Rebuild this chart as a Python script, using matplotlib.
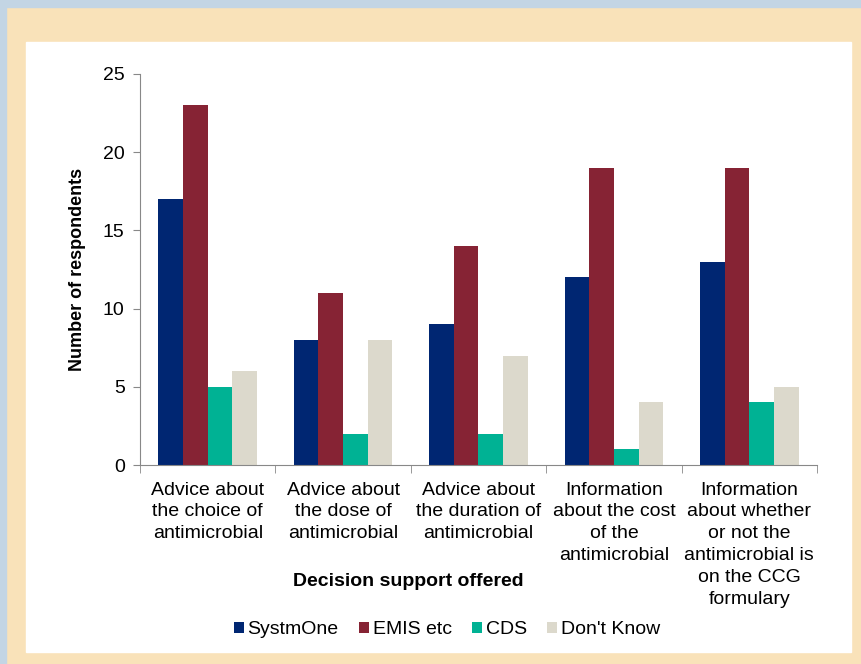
import matplotlib
matplotlib.use('Agg')
import matplotlib.pyplot as plt
import matplotlib.patches as mpatches
import numpy as np

plt.rcParams['font.family'] = ['Liberation Sans', 'DejaVu Sans']

categories = ['Advice about\nthe choice of\nantimicrobial',
              'Advice about\nthe dose of\nantimicrobial',
              'Advice about\nthe duration of\nantimicrobial',
              'Information\nabout the cost\nof the\nantimicrobial',
              'Information\nabout whether\nor not the\nantimicrobial is\non the CCG\nformulary']
series_names = ['SystmOne', 'EMIS etc', 'CDS', "Don't Know"]
systmone = [17, 8, 9, 12, 13]
emis = [23, 11, 14, 19, 19]
cds = [5, 2, 2, 1, 4]
dont_know = [6, 8, 7, 4, 5]
colors = ['#002672', '#862334', '#00b294', '#dcd9cc']

fig = plt.figure(figsize=(8.62, 6.64), dpi=100)
fig.patch.set_facecolor('#f9e2b9')
W, H = 862, 664
# blue strip top / left, white panel
fig.patches.append(mpatches.Rectangle((0, 1 - 7 / H), 1, 7 / H, transform=fig.transFigure,
                                      color='#c3d5e4', zorder=-5))
fig.patches.append(mpatches.Rectangle((0, 0), 6 / W, 1, transform=fig.transFigure,
                                      color='#c3d5e4', zorder=-5))
fig.patches.append(mpatches.Rectangle((26 / W, 1 - 652 / H), (851 - 26) / W, (652 - 42) / H,
                                      transform=fig.transFigure, color='white', zorder=-5))

ax = fig.add_axes([140 / W, 1 - 465 / H, (817 - 140) / W, (465 - 74) / H])
ax.set_facecolor('none')
ax.set_zorder(2)

x = np.arange(len(categories))
w = 1 / 5.5
data = [systmone, emis, cds, dont_know]
for i, (vals, name, c) in enumerate(zip(data, series_names, colors)):
    ax.bar(x + (i - 1.5) * w, vals, w, color=c, label=name)

ax.set_xlim(-0.5, len(categories) - 0.5)
ax.set_ylim(0, 25)
ax.set_yticks([0, 5, 10, 15, 20, 25])
ax.tick_params(axis='y', labelsize=14, color='#888888', length=5, pad=6)
ax.set_xticks(x)
ax.set_xticklabels(categories, fontsize=14, linespacing=1.37)
ax.tick_params(axis='x', which='major', length=0, pad=12)
ax.set_xticks(np.arange(-0.5, len(categories)), minor=True)
ax.tick_params(axis='x', which='minor', length=6, color='#888888')
for s in ['top', 'right']:
    ax.spines[s].set_visible(False)
for s in ['left', 'bottom']:
    ax.spines[s].set_color('#888888')

ax.set_ylabel('Number of respondents', fontsize=13, fontweight='bold', labelpad=12)
fig.text(408 / W, 1 - 581 / H, 'Decision support offered', fontsize=14, fontweight='bold',
         ha='center', va='center')

ax.legend(loc='center', bbox_to_anchor=(447 / W, 1 - 630 / H), bbox_transform=fig.transFigure,
          ncol=4, frameon=False, fontsize=14, handlelength=0.5, handleheight=0.5,
          handletextpad=0.2, columnspacing=1.05)

fig.savefig('out.png', dpi=100, facecolor=fig.get_facecolor())
